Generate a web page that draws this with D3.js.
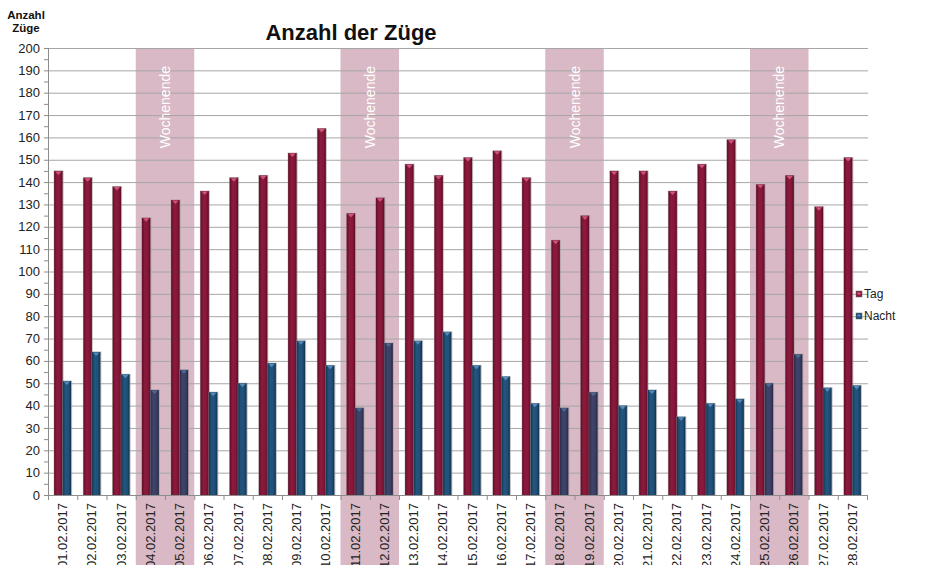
<!DOCTYPE html>
<html>
<head>
<meta charset="utf-8">
<script src="https://cdn.jsdelivr.net/npm/d3@7"></script>
<style>
  body { margin: 0; background: #fff; }
  text { font-family: "Liberation Sans", Arial, sans-serif; }
</style>
</head>
<body>
<svg id="chart" width="928" height="565"></svg>
<script>
const days = ["01.02.2017","02.02.2017","03.02.2017","04.02.2017","05.02.2017","06.02.2017","07.02.2017",
  "08.02.2017","09.02.2017","10.02.2017","11.02.2017","12.02.2017","13.02.2017","14.02.2017",
  "15.02.2017","16.02.2017","17.02.2017","18.02.2017","19.02.2017","20.02.2017","21.02.2017",
  "22.02.2017","23.02.2017","24.02.2017","25.02.2017","26.02.2017","27.02.2017","28.02.2017"];
const tag = [145,142,138,124,132,136,142,143,153,164,126,133,148,143,151,154,142,114,125,145,145,136,148,159,139,143,129,151];
const nacht = [51,64,54,47,56,46,50,59,69,58,39,68,69,73,58,53,41,39,46,40,47,35,41,43,50,63,48,49];
const weekends = [["04.02.2017","05.02.2017"],["11.02.2017","12.02.2017"],["18.02.2017","19.02.2017"],["25.02.2017","26.02.2017"]];
const yTicks = d3.range(0, 201, 10);

const svg = d3.select("#chart");
const m = { left: 48, right: 867, top: 48, bottom: 495 };

const x = d3.scaleBand().domain(days).range([m.left, m.right]);
const y = d3.scaleLinear().domain([0, 200]).range([m.bottom, m.top]);
const inner = d3.scaleBand().domain(["Tag", "Nacht"]).range([0, 17]);
const offset = (x.bandwidth() - 17) / 2;

const isWeekend = d => weekends.some(w => w.includes(d));

// gradients
const defs = svg.append("defs");
const grad = (id, stops) => {
  const g = defs.append("linearGradient").attr("id", id).attr("x1", "0").attr("x2", "1").attr("y1", "0").attr("y2", "0");
  stops.forEach(([o, c]) => g.append("stop").attr("offset", o).attr("stop-color", c));
};
grad("gTag", [[0, "#5e0f26"], [0.35, "#8c1a3e"], [0.7, "#86173a"], [1, "#5a0d24"]]);
grad("gNacht", [[0, "#133755"], [0.35, "#23557e"], [0.7, "#205078"], [1, "#11314f"]]);
grad("gNachtW", [[0, "#2a2c4a"], [0.35, "#40436a"], [0.7, "#3c3f64"], [1, "#282944"]]);

// weekend bands
svg.append("g").selectAll("rect")
  .data(weekends)
  .join("rect")
  .attr("x", d => x(d[0]))
  .attr("width", x.bandwidth() * 2)
  .attr("y", m.top)
  .attr("height", 565 - m.top)
  .attr("fill", "#d9b9c5");

// grid lines
svg.append("g").selectAll("line")
  .data(yTicks.filter(d => d > 0))
  .join("line")
  .attr("x1", m.left).attr("x2", m.right + 1)
  .attr("y1", d => y(d) + 0.5).attr("y2", d => y(d) + 0.5)
  .attr("stroke", "#a6a6a6");

// Wochenende labels
svg.append("g").selectAll("text")
  .data(weekends)
  .join("text")
  .attr("transform", d => `translate(${x(d[0]) + x.bandwidth() + 5},66) rotate(-90)`)
  .attr("text-anchor", "end")
  .attr("fill", "#ffffff")
  .style("font-size", "14px")
  .text("Wochenende");

// bars
const series = [
  { key: "Tag", values: tag },
  { key: "Nacht", values: nacht }
];
const barW = inner.bandwidth();
series.forEach(s => {
  const g = svg.append("g");
  const data = days.map((d, i) => ({ day: d, value: s.values[i] }));
  const bx = d => x(d.day) + offset + inner(s.key);
  // shadow
  g.selectAll("rect.sh")
    .data(data)
    .join("rect")
    .attr("class", "sh")
    .attr("x", d => bx(d) - 0.5)
    .attr("y", d => y(d.value) - 0.5)
    .attr("width", barW + 1.5)
    .attr("height", d => y(0) - y(d.value) + 0.5)
    .attr("fill", "#9a9a9a")
    .attr("opacity", 0.6);
  g.selectAll("rect.bar")
    .data(data)
    .join("rect")
    .attr("class", "bar")
    .attr("x", bx)
    .attr("y", d => y(d.value))
    .attr("width", barW)
    .attr("height", d => y(0) - y(d.value))
    .attr("fill", d => s.key === "Tag" ? "url(#gTag)" : (isWeekend(d.day) ? "url(#gNachtW)" : "url(#gNacht)"));
  // top cap highlight
  g.selectAll("path.cap")
    .data(data)
    .join("path")
    .attr("class", "cap")
    .attr("d", d => {
      const x0 = bx(d), yy = y(d.value);
      return `M${x0 + 1},${yy + 0.5} L${x0 + barW - 1},${yy + 0.5} L${x0 + barW / 2},${yy + 4} Z`;
    })
    .attr("fill", s.key === "Tag" ? "#d45c80" : "#5a8fc0")
    .attr("opacity", d => (s.key === "Nacht" && isWeekend(d.day)) ? 0.5 : 0.9);
});

// y axis
const yAxis = svg.append("g").attr("transform", `translate(${m.left},0)`);
yAxis.append("line")
  .attr("x1", 0.5).attr("x2", 0.5).attr("y1", m.top).attr("y2", m.bottom)
  .attr("stroke", "#8c8c8c");
yAxis.selectAll("line.tk")
  .data(d3.range(0, 201, 5))
  .join("line")
  .attr("class", "tk")
  .attr("x1", -4).attr("x2", 0)
  .attr("y1", d => y(d) + 0.5).attr("y2", d => y(d) + 0.5)
  .attr("stroke", "#8c8c8c");
yAxis.selectAll("text")
  .data(yTicks)
  .join("text")
  .attr("x", -8)
  .attr("y", d => y(d))
  .attr("dy", "0.35em")
  .attr("text-anchor", "end")
  .attr("fill", "#222")
  .style("font-size", "13px")
  .text(d => d);

// x axis
const xAxis = svg.append("g");
xAxis.append("line")
  .attr("x1", m.left).attr("x2", m.right + 1)
  .attr("y1", m.bottom + 0.5).attr("y2", m.bottom + 0.5)
  .attr("stroke", "#8c8c8c");
xAxis.selectAll("line.tk")
  .data(days.concat([null]))
  .join("line")
  .attr("class", "tk")
  .attr("x1", d => (d ? x(d) : m.right) + 0.5)
  .attr("x2", d => (d ? x(d) : m.right) + 0.5)
  .attr("y1", m.bottom).attr("y2", m.bottom + 5)
  .attr("stroke", "#8c8c8c");
xAxis.selectAll("text")
  .data(days)
  .join("text")
  .attr("transform", d => `translate(${x(d) + x.bandwidth() / 2 + 4.5},503) rotate(-90)`)
  .attr("text-anchor", "end")
  .attr("fill", "#222")
  .style("font-size", "13px")
  .text(d => d);

// title and axis label
svg.append("text")
  .attr("x", 351).attr("y", 40)
  .attr("text-anchor", "middle")
  .style("font-size", "22px")
  .style("font-weight", "bold")
  .attr("fill", "#111")
  .text("Anzahl der Züge");
const yl = svg.append("text")
  .attr("text-anchor", "middle")
  .style("font-size", "11.5px")
  .style("font-weight", "bold")
  .attr("fill", "#111");
yl.append("tspan").attr("x", 26).attr("y", 19).text("Anzahl");
yl.append("tspan").attr("x", 26).attr("y", 32).text("Züge");

// legend
const legend = svg.append("g").attr("transform", "translate(856,291)");
legend.selectAll("g")
  .data([{ k: "Tag", c: "#8a1a3c", h: "#d45c80" }, { k: "Nacht", c: "#1f4e78", h: "#5a8fc0" }])
  .join("g")
  .attr("transform", (d, i) => `translate(0,${i * 22})`)
  .each(function (d) {
    const g = d3.select(this);
    g.append("rect").attr("width", 6).attr("height", 6).attr("fill", d.c).attr("stroke", "#666").attr("stroke-width", 0.5);
    g.append("rect").attr("x", 1.5).attr("y", 1.5).attr("width", 3).attr("height", 2).attr("fill", d.h);
    g.append("text").attr("x", 8).attr("y", 3).attr("dy", "0.35em").style("font-size", "12px").attr("fill", "#222").text(d.k);
  });
</script>
</body>
</html>
